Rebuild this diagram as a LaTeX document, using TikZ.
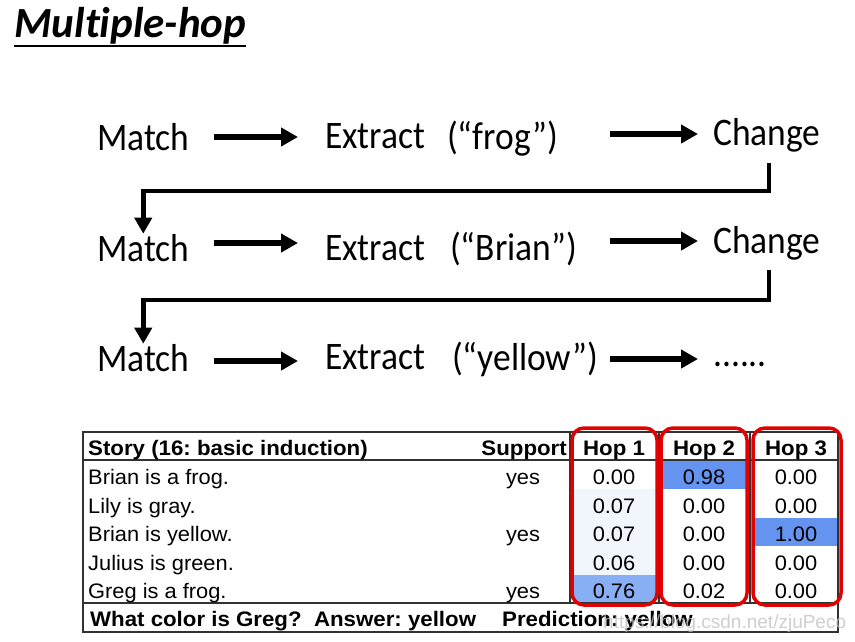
\documentclass[tikz,border=0pt]{standalone}
\usepackage{fontspec}
\setmainfont{Carlito}[Ligatures=NoCommon]
\newfontfamily\tabfont{Liberation Sans}
\usetikzlibrary{arrows.meta}
\definecolor{hiblue}{RGB}{100,148,240}
\definecolor{midblue}{RGB}{136,174,244}
\definecolor{paleblue}{RGB}{241,245,252}
\definecolor{boxred}{RGB}{226,0,0}
\definecolor{rulegray}{RGB}{50,50,50}
\newcommand\hsq[1]{\scalebox{0.91}[1]{#1}}
\newcommand\tsqb[1]{\scalebox{1.06}[1]{#1}}
\newcommand\tsqr[1]{\scalebox{1.04}[1]{#1}}
\frenchspacing
\begin{document}
\begin{tikzpicture}[x=1pt,y=-1pt,
  flow/.style={font=\fontsize{39}{46}\selectfont, inner sep=0pt, anchor=base west},
  arr/.style={line width=5.5pt, -{Triangle[length=17pt,width=18pt]}},
  conn/.style={line width=4.5pt, line join=miter, -{Triangle[length=16pt,width=17pt]}},
  tcell/.style={font=\tabfont\fontsize{21}{24}\selectfont, inner sep=0pt, anchor=base},
  tbold/.style={font=\tabfont\fontsize{21}{24}\selectfont\bfseries, inner sep=0pt},
  tline/.style={draw=rulegray, line width=1.4pt},
  redbox/.style={draw=boxred, line width=3.5pt, rounded corners=12pt}]
\useasboundingbox (0,0) rectangle (855,641);
\fill[white] (0,0) rectangle (855,641);

% title
\node[anchor=base west, inner sep=0pt, font=\fontsize{43}{50}\selectfont\bfseries\itshape] (title) at (14,37) {Multiple-hop};
\draw[line width=2pt] (title.west |- 0,46) -- (title.east |- 0,46);

% row 1
\node[flow] (m1) at (97,150) {\hsq{Match}};
\node[flow] (e1) at (325,148) {\hsq{Extract}};
\node[flow] (p1) at (447,149) {\hsq{(“frog”)}};
\node[flow] (c1) at (713,145) {\hsq{Change}};
% row 2
\node[flow] (m2) at (97,261) {\hsq{Match}};
\node[flow] (e2) at (325,260) {\hsq{Extract}};
\node[flow] (p2) at (450,260) {\hsq{(“Brian”)}};
\node[flow] (c2) at (713,253) {\hsq{Change}};
% row 3
\node[flow] (m3) at (97,371) {\hsq{Match}};
\node[flow] (e3) at (325,369) {\hsq{Extract}};
\node[flow] (p3) at (452,370) {\hsq{(“yellow”)}};
\node[flow] (d3) at (713,366) {\hsq{......}};

% arrows
\draw[arr] ([xshift=24pt]m1.east |- 0,137) -- ([xshift=-27pt]e1.west |- 0,137);
\draw[arr] ([xshift=-103pt]c1.west |- 0,134) -- ([xshift=-15pt]c1.west |- 0,134);
\draw[arr] ([xshift=24pt]m2.east |- 0,243) -- ([xshift=-27pt]e2.west |- 0,243);
\draw[arr] ([xshift=-103pt]c2.west |- 0,241) -- ([xshift=-15pt]c2.west |- 0,241);
\draw[arr] ([xshift=24pt]m3.east |- 0,361) -- ([xshift=-27pt]e3.west |- 0,361);
\draw[arr] ([xshift=-103pt]d3.west |- 0,359) -- ([xshift=-15pt]d3.west |- 0,359);

% connectors
\coordinate (s1) at (769,163);
\coordinate (s2) at (769,270);
\draw[conn] (s1) -- (s1 |- 0,191) -| (m2.north);
\draw[conn] (s2) -- (s2 |- 0,300) -| (m3.north);

% table fills
\begin{scope}
\clip[rounded corners=12pt] (572,428) rectangle (657,605);
\fill[paleblue] (572,489) rectangle (657,575);
\fill[midblue] (572,575) rectangle (657,603);
\end{scope}
\fill[hiblue] (661,461) rectangle (747,489);
\fill[hiblue] (754,518) rectangle (839,546);

% table lines
\draw[tline] (83,432) rectangle (838,632);
\draw[tline] (83,460) -- (838,460);
\draw[tline] (83,603) -- (838,603);
\draw[tline] (570,432) -- (570,603);
\draw[tline] (659,432) -- (659,603);
\draw[tline] (750,432) -- (750,603);

% header
\node[tbold, anchor=base west] (hstory) at (88,455) {\tsqb{Story (16: basic induction)}};
\node[tbold, anchor=base east] (hsup) at (567,455) {\tsqb{Support}};
\node[tbold, anchor=base] (hh1) at (614,455) {\tsqb{Hop 1}};
\node[tbold, anchor=base] (hh2) at (704,455) {\tsqb{Hop 2}};
\node[tbold, anchor=base] (hh3) at (796,455) {\tsqb{Hop 3}};

% story rows
\foreach \t/\y [count=\i] in {Brian is a frog./484, Lily is gray./513, Brian is yellow./541, Julius is green./570, Greg is a frog./598}
  \node[tcell, anchor=base west] (s\i) at (88,\y) {\tsqr{\t}};
\foreach \y/\i in {484/1, 541/3, 598/5}
  \node[tcell] (y\i) at (523,\y) {\tsqr{yes}};
\foreach \a/\b/\c/\y [count=\i] in {0.00/0.98/0.00/484, 0.07/0.00/0.00/513, 0.07/0.00/1.00/541, 0.06/0.00/0.00/570, 0.76/0.02/0.00/598}{
  \node[tcell] (ha\i) at (614,\y) {\tsqr{\a}};
  \node[tcell] (hb\i) at (704,\y) {\tsqr{\b}};
  \node[tcell] (hc\i) at (796,\y) {\tsqr{\c}};
}

% bottom row
\node[tbold, anchor=base west] (q) at (90,626) {\tsqb{What color is Greg?~ Answer: yellow}};
\node[tbold, anchor=base west] (pred) at (502,626) {\tsqb{Prediction: yellow}};

% watermark
\node[anchor=base west, inner sep=0pt, text=gray!50, opacity=0.75, font=\tabfont\fontsize{19}{22}\selectfont] (wm) at (603,628) {https://blog.csdn.net/zjuPeco};

% red boxes
\draw[redbox] (572,428) rectangle (657,605);
\draw[redbox] (661,428) rectangle (747,605);
\draw[redbox] (753,428) rectangle (841,605);
\end{tikzpicture}
\end{document}
